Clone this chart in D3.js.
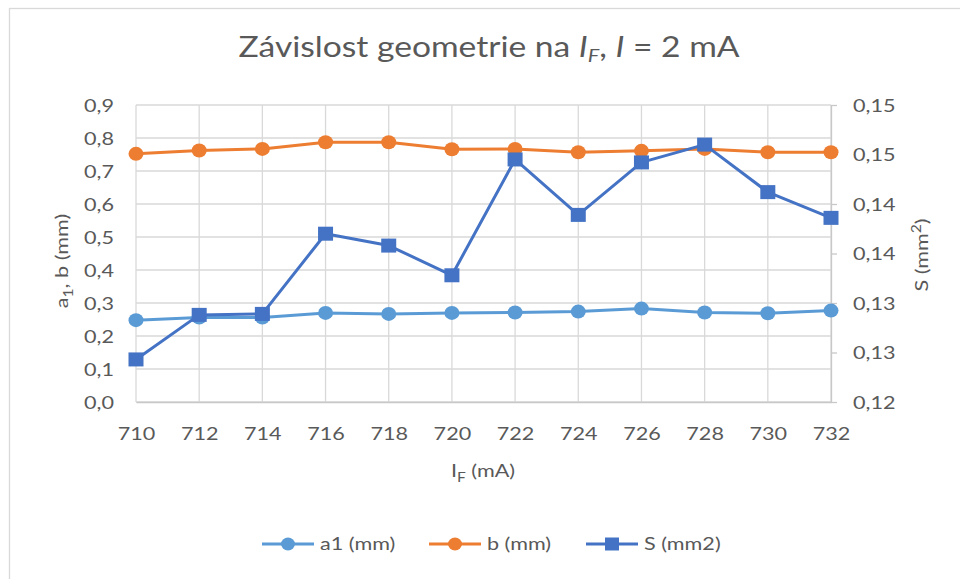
<!DOCTYPE html>
<html>
<head>
<meta charset="utf-8">
<script src="https://cdn.jsdelivr.net/npm/d3@7/dist/d3.min.js"></script>
<style>
  html, body { margin: 0; padding: 0; background: #fff; }
  svg { display: block; }
  text { font-family: Lato, "Open Sans", sans-serif; fill: #595959; }
</style>
</head>
<body>
<svg id="chart" width="960" height="579"></svg>
<script>
// ---- data ----
const categories = [710, 712, 714, 716, 718, 720, 722, 724, 726, 728, 730, 732];
const a1Values = [0.248, 0.256, 0.256, 0.270, 0.267, 0.270, 0.271, 0.274, 0.283, 0.271, 0.269, 0.277];
const bValues  = [0.752, 0.762, 0.767, 0.787, 0.787, 0.766, 0.767, 0.757, 0.761, 0.767, 0.757, 0.757];
const sValues  = [0.1243, 0.1288, 0.1289, 0.1370, 0.1358, 0.1328, 0.1445, 0.1389, 0.1442, 0.1460, 0.1412, 0.1386];
const leftTicks = [0, 0.1, 0.2, 0.3, 0.4, 0.5, 0.6, 0.7, 0.8, 0.9];
const leftTickLabels = ["0,0", "0,1", "0,2", "0,3", "0,4", "0,5", "0,6", "0,7", "0,8", "0,9"];
const rightTicks = [0.120, 0.125, 0.130, 0.135, 0.140, 0.145, 0.150];
const rightTickLabels = ["0,12", "0,13", "0,13", "0,14", "0,14", "0,15", "0,15"];
const seriesNames = ["a1 (mm)", "b (mm)", "S (mm2)"];

// ---- style ----
const SX = 1.2;              // horizontal glyph stretch seen in the reference
const FS = 18;
const colA = "#5B9BD5", colB = "#ED7D31", colS = "#4472C4";
const gridCol = "#D9D9D9";
const plot = { left: 136, right: 831, top: 105, bottom: 402 };

const svg = d3.select("#chart");

// chart border
svg.append("rect").attr("x", 9.5).attr("y", 8.5).attr("width", 1000).attr("height", 1000)
  .attr("fill", "#fff").attr("stroke", gridCol).attr("stroke-width", 1.3);

const x = d3.scalePoint().domain(categories).range([plot.left, plot.right]);
const yL = d3.scaleLinear().domain([0, 0.9]).range([plot.bottom, plot.top]);
const yR = d3.scaleLinear().domain([0.12, 0.15]).range([plot.bottom, plot.top]);

function stretch(sel, tx, ty, rot) {
  sel.attr("x", 0).attr("y", 0)
     .attr("transform", `translate(${tx},${ty})` + (rot ? ` rotate(${rot})` : "") + ` scale(${SX},1)`);
  return sel;
}

// gridlines
const grid = svg.append("g").attr("stroke", gridCol).attr("stroke-width", 1.3);
grid.selectAll("line.h").data(leftTicks).join("line")
  .attr("x1", plot.left).attr("x2", plot.right)
  .attr("y1", d => yL(d)).attr("y2", d => yL(d));
grid.selectAll("line.v").data(categories).join("line")
  .attr("x1", d => x(d)).attr("x2", d => x(d))
  .attr("y1", plot.top).attr("y2", plot.bottom);

// left axis
const axL = svg.append("g").attr("transform", `translate(${plot.left},0)`)
  .call(d3.axisLeft(yL).tickValues(leftTicks).tickFormat((d, i) => leftTickLabels[i]).tickSize(0));
axL.select(".domain").remove();
axL.selectAll("text").attr("x", -22 / SX).attr("dy", "0.36em")
  .attr("transform", `scale(${SX},1)`).style("font-size", FS + "px").style("font-family", "Lato").attr("fill", "#595959");

// right axis
const axR = svg.append("g").attr("transform", `translate(${plot.right},0)`)
  .call(d3.axisRight(yR).tickValues(rightTicks).tickFormat((d, i) => rightTickLabels[i]).tickSize(6).tickSizeOuter(0));
axR.select(".domain").attr("stroke", "#C8C8C8").attr("stroke-width", 1.3);
axR.selectAll("line").attr("stroke", "#C8C8C8").attr("stroke-width", 1.3);
axR.selectAll("text").attr("x", 22 / SX).attr("dy", "0.36em")
  .attr("transform", `scale(${SX},1)`).style("font-size", FS + "px").style("font-family", "Lato").attr("fill", "#595959");

// bottom axis
const axB = svg.append("g").attr("transform", `translate(0,${plot.bottom})`)
  .call(d3.axisBottom(x).tickSize(0).tickSizeOuter(0));
axB.select(".domain").attr("stroke", "#C8C8C8").attr("stroke-width", 1.3);
axB.selectAll("text").attr("y", 25).attr("dy", "0.71em")
  .attr("transform", `scale(${SX},1)`).style("font-size", FS + "px").style("font-family", "Lato").attr("fill", "#595959");

// title
const title = svg.append("text").attr("text-anchor", "middle").style("font-size", "28px").style("font-weight", 400);
stretch(title, 489, 57);
title.append("tspan").text("Závislost geometrie na ");
title.append("tspan").style("font-style", "italic").text("I");
title.append("tspan").style("font-style", "italic").style("font-size", "18px").attr("dy", 5).text("F");
title.append("tspan").attr("dy", -5).text(", ");
title.append("tspan").style("font-style", "italic").text("I");
title.append("tspan").text(" = 2 mA");

// x-axis title
const xt = svg.append("text").attr("text-anchor", "middle").style("font-size", FS + "px");
stretch(xt, 483, 477);
xt.append("tspan").text("I");
xt.append("tspan").style("font-size", "13px").attr("dy", 5).text("F");
xt.append("tspan").attr("dy", -5).text(" (mA)");

// left axis title
const ylt = svg.append("text").attr("text-anchor", "middle").style("font-size", FS + "px");
stretch(ylt, 68, 261, -90);
ylt.append("tspan").text("a");
ylt.append("tspan").style("font-size", "13px").attr("dy", 5).text("1");
ylt.append("tspan").attr("dy", -5).text(", b (mm)");

// right axis title
const yrt = svg.append("text").attr("text-anchor", "middle").style("font-size", FS + "px");
stretch(yrt, 928, 255, -90);
yrt.append("tspan").text("S (mm");
yrt.append("tspan").style("font-size", "13px").attr("dy", -7).text("2");
yrt.append("tspan").attr("dy", 7).text(")");

// series
const series = [
  { name: seriesNames[0], values: a1Values, color: colA, y: yL, marker: "circle" },
  { name: seriesNames[1], values: bValues,  color: colB, y: yL, marker: "circle" },
  { name: seriesNames[2], values: sValues,  color: colS, y: yR, marker: "square" }
];

series.forEach(s => {
  const g = svg.append("g");
  const line = d3.line().x((d, i) => x(categories[i])).y(d => s.y(d));
  g.append("path").datum(s.values).attr("d", line)
    .attr("fill", "none").attr("stroke", s.color).attr("stroke-width", 3).attr("stroke-linejoin", "round");
  if (s.marker === "circle") {
    g.selectAll("ellipse").data(s.values).join("ellipse")
      .attr("cx", (d, i) => x(categories[i])).attr("cy", d => s.y(d))
      .attr("rx", 7.5).attr("ry", 7).attr("fill", s.color);
  } else {
    g.selectAll("rect").data(s.values).join("rect")
      .attr("x", (d, i) => x(categories[i]) - 7.5).attr("y", d => s.y(d) - 7)
      .attr("width", 15).attr("height", 14).attr("fill", s.color);
  }
});

// legend
const legendX = [262, 429, 586];
const legendY = 544;
series.forEach((s, i) => {
  const g = svg.append("g").attr("transform", `translate(${legendX[i]},${legendY})`);
  g.append("line").attr("x1", 0).attr("x2", 52).attr("y1", 0).attr("y2", 0)
    .attr("stroke", s.color).attr("stroke-width", 3);
  if (s.marker === "circle") {
    g.append("ellipse").attr("cx", 26).attr("cy", 0).attr("rx", 7).attr("ry", 6.5).attr("fill", s.color);
  } else {
    g.append("rect").attr("x", 19).attr("y", -6.5).attr("width", 14).attr("height", 13).attr("fill", s.color);
  }
  const t = g.append("text").style("font-size", FS + "px").attr("dy", "0.36em").text(s.name);
  t.attr("x", 0).attr("transform", `translate(58,0) scale(${SX},1)`);
});
</script>
</body>
</html>
